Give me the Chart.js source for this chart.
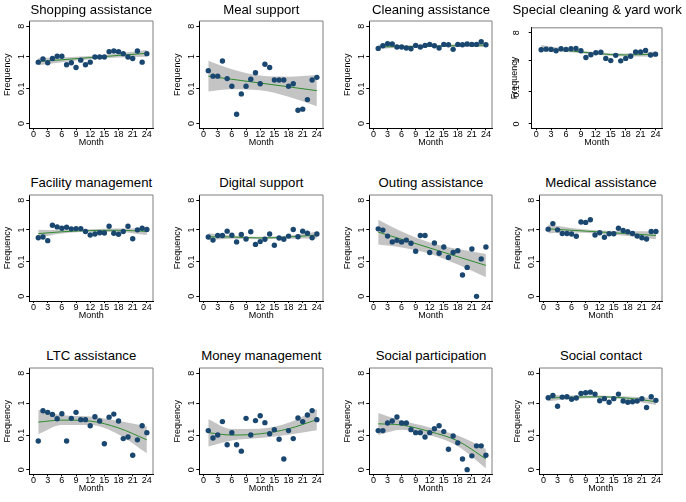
<!DOCTYPE html>
<html>
<head>
<meta charset="utf-8">
<script src="https://cdn.jsdelivr.net/npm/chart.js@4.4.1/dist/chart.umd.min.js"></script>
<style>
  html, body { margin: 0; padding: 0; background: #fff; }
  #figure { position: relative; width: 686px; height: 502px; overflow: hidden; font-family: 'Liberation Sans', Arial, sans-serif; }
  #figure canvas { position: absolute; }
  .panel-title { position: absolute; font-size: 13.2px; line-height: 16px; white-space: nowrap; transform: translateX(-50%); color: #000; }
</style>
</head>
<body>
<div id="figure"></div>
<script>

/* =========================
   DATA
========================= */

const months = [1, 2, 3, 4, 5, 6, 7, 8, 9, 10, 11, 12, 13, 14, 15, 16, 17, 18, 19, 20, 21, 22, 23, 24];
const fitMonths = [1, 6, 12, 18, 24];
const xTicks = [0, 3, 6, 9, 12, 15, 18, 21, 24];
const yTicks = [0, 0.1, 1, 8];
const yTickLabels = ['0', '0.1', '1', '8'];

const titles = ['Shopping assistance', 'Meal support', 'Cleaning assistance', 'Special cleaning & yard work',
                'Facility management', 'Digital support', 'Outing assistance', 'Medical assistance',
                'LTC assistance', 'Money management', 'Social participation', 'Social contact'];

const shoppingObs = [0.67, 0.84, 0.64, 0.86, 1.01, 1.01, 0.56, 0.64, 0.46, 0.77, 0.56, 0.67, 0.96, 0.96, 0.96, 1.39, 1.45, 1.39, 1.21, 0.96, 0.86, 1.45, 0.67, 1.21];
const shoppingFit = [0.70, 0.79, 0.92, 1.07, 1.24];
const shoppingLo  = [0.54, 0.67, 0.82, 0.93, 0.98];
const shoppingHi  = [0.90, 0.93, 1.03, 1.23, 1.56];

const mealObs = [0.37, 0.25, 0.25, 0.73, 0.21, 0.12, 0.009, 0.067, 0.12, 0.20, 0.32, 0.145, 0.58, 0.46, 0.19, 0.19, 0.19, 0.12, 0.145, 0.015, 0.017, 0.042, 0.19, 0.23];
const mealFit = [0.25, 0.20, 0.152, 0.115, 0.086];
const mealLo  = [0.081, 0.095, 0.088, 0.053, 0.023];
const mealHi  = [0.74, 0.41, 0.26, 0.24, 0.27];

const cleaningObs = [1.74, 2.09, 2.40, 2.35, 1.91, 1.91, 1.78, 1.70, 2.14, 1.91, 2.14, 2.29, 2.09, 1.78, 2.29, 2.24, 1.63, 2.29, 2.24, 2.35, 2.29, 2.29, 2.75, 2.24];
const cleaningFit = [1.93, 1.97, 2.03, 2.10, 2.17];
const cleaningLo  = [1.69, 1.81, 1.90, 1.92, 1.90];
const cleaningHi  = [2.23, 2.17, 2.18, 2.32, 2.49];

const specialObs = [2.29, 2.40, 2.35, 2.14, 2.46, 2.35, 2.46, 2.51, 2.14, 1.30, 1.59, 1.83, 1.91, 1.21, 1.03, 1.52, 1.01, 1.21, 1.42, 1.95, 1.95, 2.19, 1.56, 1.66];
const specialFit = [2.57, 2.19, 1.74, 1.56, 1.66];
const specialLo  = [2.04, 1.95, 1.59, 1.39, 1.38];
const specialHi  = [3.23, 2.46, 1.91, 1.75, 2.00];

const facilityObs = [0.58, 0.61, 0.47, 1.39, 1.24, 1.13, 1.21, 1.08, 1.10, 1.10, 0.90, 0.70, 0.75, 0.82, 0.81, 1.30, 0.79, 0.74, 0.90, 1.30, 0.54, 1.01, 1.13, 1.03];
const facilityFit = [0.77, 0.88, 0.96, 0.98, 0.90];
const facilityLo  = [0.58, 0.78, 0.87, 0.87, 0.70];
const facilityHi  = [1.01, 0.99, 1.06, 1.11, 1.11];

const digitalObs = [0.61, 0.49, 0.68, 0.68, 0.92, 0.69, 0.43, 0.73, 0.53, 0.88, 0.36, 0.44, 0.52, 0.75, 0.34, 0.57, 0.52, 0.65, 1.03, 0.62, 0.92, 0.80, 0.58, 0.75];
const digitalFit = [0.62, 0.61, 0.57, 0.61, 0.70];
const digitalLo  = [0.49, 0.54, 0.52, 0.54, 0.55];
const digitalHi  = [0.79, 0.68, 0.62, 0.68, 0.88];

const outingObs = [1.08, 0.99, 0.65, 0.43, 0.48, 0.43, 0.49, 0.39, 0.22, 0.68, 0.68, 0.20, 0.40, 0.19, 0.30, 0.14, 0.20, 0.23, 0.034, 0.065, 0.26, 0.0, 0.125, 0.30];
const outingFit = [0.86, 0.52, 0.28, 0.147, 0.076];
const outingLo  = [0.36, 0.29, 0.185, 0.081, 0.028];
const outingHi  = [2.03, 0.90, 0.416, 0.26, 0.18];

const medicalObs = [1.06, 1.56, 1.01, 0.78, 0.78, 0.75, 0.64, 1.74, 1.70, 2.05, 0.70, 0.82, 0.60, 0.77, 0.77, 1.13, 0.96, 0.88, 0.78, 0.65, 0.58, 0.53, 0.90, 0.90];
const medicalFit = [1.08, 0.98, 0.87, 0.77, 0.68];
const medicalLo  = [0.80, 0.83, 0.77, 0.65, 0.52];
const medicalHi  = [1.46, 1.15, 0.97, 0.91, 0.90];

const ltcObs = [0.063, 0.58, 0.52, 0.45, 0.33, 0.47, 0.063, 0.34, 0.52, 0.31, 0.31, 0.20, 0.38, 0.28, 0.05, 0.37, 0.46, 0.28, 0.076, 0.086, 0.017, 0.069, 0.20, 0.12];
const ltcFit = [0.26, 0.30, 0.28, 0.17, 0.069];
const ltcLo  = [0.107, 0.21, 0.21, 0.105, 0.021];
const ltcHi  = [0.63, 0.43, 0.385, 0.28, 0.19];

const moneyObs = [0.14, 0.08, 0.10, 0.27, 0.046, 0.12, 0.046, 0.026, 0.34, 0.10, 0.29, 0.41, 0.25, 0.11, 0.15, 0.072, 0.011, 0.14, 0.076, 0.35, 0.27, 0.43, 0.59, 0.31];
const moneyFit = [0.12, 0.10, 0.11, 0.16, 0.31];
const moneyLo  = [0.040, 0.066, 0.080, 0.102, 0.143];
const moneyHi  = [0.32, 0.157, 0.161, 0.247, 0.66];

const participationObs = [0.14, 0.14, 0.245, 0.28, 0.375, 0.245, 0.245, 0.15, 0.12, 0.12, 0.086, 0.12, 0.16, 0.20, 0.13, 0.031, 0.093, 0.054, 0.011, 0.0, 0.016, 0.042, 0.042, 0.017];
const participationFit = [0.23, 0.21, 0.13, 0.063, 0.011];
const participationLo  = [0.10, 0.148, 0.098, 0.041, 0.001];
const participationHi  = [0.50, 0.29, 0.177, 0.096, 0.032];

const contactObs = [1.45, 1.70, 0.80, 1.52, 1.55, 1.30, 1.42, 1.95, 2.05, 2.14, 1.87, 1.18, 1.36, 1.06, 1.36, 1.87, 1.16, 1.06, 1.10, 1.16, 1.36, 0.73, 1.55, 1.21];
const contactFit = [1.42, 1.51, 1.55, 1.41, 1.10];
const contactLo  = [1.13, 1.34, 1.42, 1.25, 0.87];
const contactHi  = [1.79, 1.70, 1.71, 1.58, 1.39];

const panels = [
    [shoppingObs, shoppingFit, shoppingLo, shoppingHi],
    [mealObs, mealFit, mealLo, mealHi],
    [cleaningObs, cleaningFit, cleaningLo, cleaningHi],
    [specialObs, specialFit, specialLo, specialHi],
    [facilityObs, facilityFit, facilityLo, facilityHi],
    [digitalObs, digitalFit, digitalLo, digitalHi],
    [outingObs, outingFit, outingLo, outingHi],
    [medicalObs, medicalFit, medicalLo, medicalHi],
    [ltcObs, ltcFit, ltcLo, ltcHi],
    [moneyObs, moneyFit, moneyLo, moneyHi],
    [participationObs, participationFit, participationLo, participationHi],
    [contactObs, contactFit, contactLo, contactHi]
];

/* =========================
   LAYOUT + STYLE
========================= */

const FONT = "'Liberation Sans', Arial, sans-serif";
const dotColor = '#1a476f';
const fitColor = '#2e8b2e';
const bandColor = '#c4c4c4';

// plot boxes (page px)
const colLeft = [29.3, 199.3, 369.3, 539.3];
const colRight = [153.3, 323.3, 492.7, 662.7];
const rowTop = [19.3, 193.3, 366];
const rowBottom = [128.3, 301, 474.3];
const rowTitleMid = [10, 182.5, 356];

const xMin = -0.9, xMax = 25.3;
const yMin = -2.14, yMax = 1.06;
const Hx = 20;

// y axis is log10(freq + 0.01)
const toAxis = f => Math.log10(f + 0.01);

const boxOutline = {
    id: 'boxOutline',
    afterDraw(chart){
        const {ctx, chartArea: a} = chart;
        ctx.save();
        ctx.strokeStyle = '#7f7f7f';
        ctx.lineWidth = 1;
        ctx.beginPath();
        ctx.moveTo(a.left, a.top);
        ctx.lineTo(a.right, a.top);
        ctx.lineTo(a.right, a.bottom);
        ctx.stroke();
        ctx.restore();
    }
};

const fig = document.getElementById('figure');

panels.forEach((p, k) => {

    const col = k % 4, row = Math.floor(k / 4);

    let L = colLeft[col];
    let freqGap = 22;     // box left -> "Frequency" centre
    let labelGap = 7.6;   // box left -> tick label centre
    if(k === 3){ L = 531.7; freqGap = 16.7; labelGap = 14.7; }

    const R = colRight[col], T = rowTop[row], B = rowBottom[row];
    const Wy = freqGap + 5.4;

    const cl = Math.floor(L - Wy) - 1;
    const ct = Math.floor(T) - 2;
    const cr = Math.ceil(R) + 3;
    const cb = Math.ceil(B + Hx) + 2;

    const canvas = document.createElement('canvas');
    canvas.width = cr - cl;
    canvas.height = cb - ct;
    canvas.style.left = cl + 'px';
    canvas.style.top = ct + 'px';
    fig.appendChild(canvas);

    const title = document.createElement('div');
    title.className = 'panel-title';
    title.textContent = titles[k];
    title.style.left = ((L + R) / 2) + 'px';
    title.style.top = (rowTitleMid[row] - 8) + 'px';
    fig.appendChild(title);

    const [obs, fit, lo, hi] = p;

    new Chart(canvas, {

        type: 'line',

        data: {
            datasets: [
                {
                    label: 'Observed',
                    data: months.map((m, i) => ({x: m, y: toAxis(obs[i])})),
                    showLine: false,
                    pointRadius: 2.7,
                    pointBackgroundColor: dotColor,
                    pointBorderWidth: 0,
                    borderColor: dotColor
                },
                {
                    label: 'Fitted',
                    data: fitMonths.map((m, i) => ({x: m, y: toAxis(fit[i])})),
                    borderColor: fitColor,
                    borderWidth: 1,
                    pointRadius: 0,
                    cubicInterpolationMode: 'monotone',
                    fill: false
                },
                {
                    label: '95% CI',
                    data: fitMonths.map((m, i) => ({x: m, y: toAxis(hi[i])})),
                    borderColor: 'rgba(0,0,0,0)',
                    borderWidth: 0,
                    pointRadius: 0,
                    cubicInterpolationMode: 'monotone',
                    backgroundColor: bandColor,
                    fill: '+1'
                },
                {
                    label: '95% CI low',
                    data: fitMonths.map((m, i) => ({x: m, y: toAxis(lo[i])})),
                    borderColor: 'rgba(0,0,0,0)',
                    borderWidth: 0,
                    pointRadius: 0,
                    cubicInterpolationMode: 'monotone',
                    fill: false
                }
            ]
        },

        options: {

            responsive: false,
            animation: false,
            devicePixelRatio: 1,

            layout: {
                padding: {
                    left: L - Wy - cl,
                    top: T - ct,
                    right: cr - R,
                    bottom: cb - (B + Hx)
                }
            },

            plugins: {
                legend: { display: false },
                tooltip: { enabled: false }
            },

            scales: {

                x: {
                    type: 'linear',
                    min: xMin,
                    max: xMax,
                    afterBuildTicks: ax => { ax.ticks = xTicks.map(v => ({value: v})); },
                    afterFit: ax => { ax.height = Hx; },
                    border: { display: true, color: '#000', width: 1 },
                    grid: { display: true, drawOnChartArea: false, drawTicks: true, tickLength: 2, color: '#000' },
                    ticks: {
                        color: '#000',
                        font: { family: FONT, size: 9 },
                        padding: -1,
                        maxRotation: 0,
                        minRotation: 0,
                        autoSkip: false
                    },
                    title: {
                        display: true,
                        text: 'Month',
                        color: '#000',
                        font: { family: FONT, size: 9 },
                        padding: { top: 0, bottom: 0 }
                    }
                },

                y: {
                    type: 'linear',
                    min: yMin,
                    max: yMax,
                    afterBuildTicks: ax => { ax.ticks = yTicks.map(v => ({value: toAxis(v)})); },
                    afterFit: ax => { ax.width = Wy; },
                    border: { display: true, color: '#000', width: 1 },
                    grid: { display: true, drawOnChartArea: false, drawTicks: true, tickLength: 3, color: '#000' },
                    ticks: {
                        color: '#000',
                        font: { family: FONT, size: 9 },
                        padding: labelGap - 9.25,
                        minRotation: 90,
                        maxRotation: 90,
                        crossAlign: 'center',
                        autoSkip: false,
                        callback: (v, i) => yTickLabels[i]
                    },
                    title: {
                        display: true,
                        text: 'Frequency',
                        color: '#000',
                        font: { family: FONT, size: 9 },
                        padding: { top: 0, bottom: 0 }
                    }
                }

            }

        },

        plugins: [boxOutline]

    });

});

</script>
</body>
</html>
